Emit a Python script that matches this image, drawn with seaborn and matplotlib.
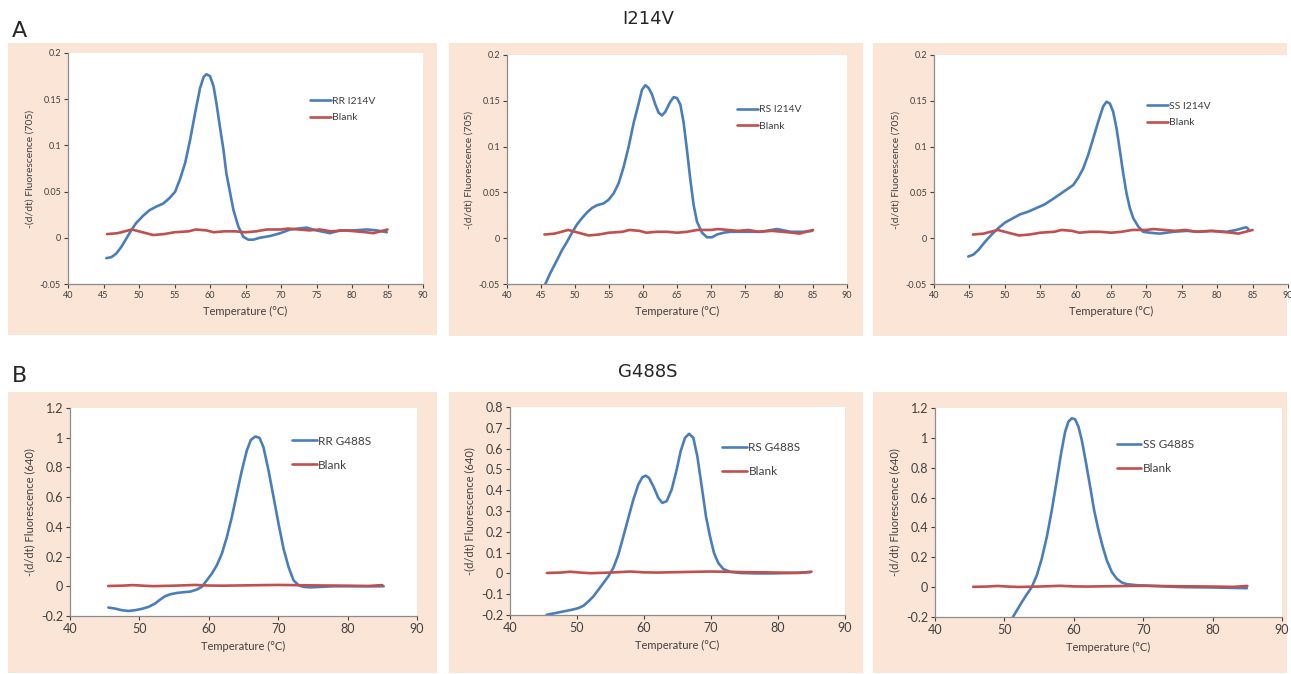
import numpy as np
import pandas as pd
import matplotlib.pyplot as plt
import seaborn as sns
from matplotlib.patches import Rectangle
from matplotlib.ticker import FuncFormatter

# --- data (temperature in degC, -(d/dt) fluorescence) ---
# I214V (705 channel)
rr_i214v_t = [45.4, 46.1, 46.8, 47.5, 48.2, 48.9, 49.6, 50.6, 51.5, 52.5, 53.4, 54.3, 55.1, 55.8, 56.5,
              57.2, 57.9, 58.6, 59.1, 59.5, 60.0, 60.5, 60.9, 61.4, 61.9, 62.3, 62.8, 63.3, 64.0, 64.7,
              65.4, 66.1, 67.0, 68.5, 69.9, 71.3, 73.6, 75.0, 76.9, 78.3, 80.2, 82.1, 83.5, 84.9]
rr_i214v_y = [-0.022, -0.021, -0.017, -0.010, -0.001, 0.008, 0.016, 0.024, 0.030, 0.034, 0.037, 0.043, 0.050, 0.064, 0.081,
              0.106, 0.135, 0.162, 0.174, 0.177, 0.175, 0.164, 0.146, 0.120, 0.095, 0.070, 0.050, 0.030, 0.012, 0.001,
              -0.002, -0.002, 0.000, 0.002, 0.005, 0.009, 0.011, 0.008, 0.005, 0.008, 0.008, 0.009, 0.008, 0.006]

rs_i214v_t = [45.4, 45.64, 46.37, 47.35, 48.09, 48.82, 49.56, 50.29, 51.03, 51.76, 52.5, 53.24, 54.22, 54.95, 55.69,
              56.42, 57.16, 57.89, 58.63, 59.36, 59.85, 60.34, 60.83, 61.32, 61.81, 62.3, 62.79, 63.28, 64.02, 64.51,
              65.0, 65.49, 65.98, 66.47, 66.96, 67.45, 67.94, 68.68, 69.41, 70.15, 70.88, 71.86, 72.8, 75.3, 77.3,
              79.7, 81.7, 83.6, 84.9]
rs_i214v_y = [-0.058, -0.050, -0.038, -0.024, -0.013, -0.004, 0.006, 0.015, 0.022, 0.028, 0.033, 0.036, 0.038, 0.042, 0.049,
              0.060, 0.078, 0.100, 0.126, 0.147, 0.162, 0.167, 0.164, 0.157, 0.146, 0.137, 0.134, 0.138, 0.149, 0.154,
              0.153, 0.146, 0.126, 0.096, 0.064, 0.036, 0.018, 0.006, 0.001, 0.001, 0.004, 0.006, 0.007, 0.007, 0.007,
              0.010, 0.007, 0.007, 0.008]

ss_i214v_t = [44.84, 45.55, 46.26, 47.2, 48.14, 49.08, 50.02, 50.96, 52.14, 53.31, 54.49, 55.66, 56.84, 57.78, 58.72,
              59.66, 60.37, 61.07, 61.78, 62.49, 63.19, 63.9, 64.37, 64.84, 65.31, 65.78, 66.25, 66.72, 67.19, 67.66,
              68.13, 68.83, 69.54, 70.48, 71.89, 73.8, 75.7, 77.5, 79.4, 81.3, 82.7, 84.1, 84.4]
ss_i214v_y = [-0.020, -0.018, -0.013, -0.004, 0.004, 0.011, 0.017, 0.021, 0.026, 0.029, 0.033, 0.037, 0.043, 0.048, 0.053,
              0.058, 0.066, 0.076, 0.091, 0.109, 0.127, 0.144, 0.149, 0.147, 0.138, 0.120, 0.096, 0.071, 0.049, 0.033,
              0.022, 0.013, 0.007, 0.006, 0.005, 0.007, 0.008, 0.007, 0.008, 0.007, 0.009, 0.012, 0.010]

blank_a_t = [45.5, 47.0, 49.0, 50.5, 52.0, 53.5, 55.0, 57.0, 58.0, 59.5, 60.5, 62.0, 63.5, 65.0, 66.5,
             68.0, 70.0, 71.0, 72.5, 74.0, 75.5, 77.0, 79.0, 80.5, 82.0, 83.0, 85.0]
blank_a_y = [0.004, 0.005, 0.009, 0.006, 0.003, 0.004, 0.006, 0.007, 0.009, 0.008, 0.006, 0.007, 0.007, 0.006, 0.007,
             0.009, 0.009, 0.010, 0.009, 0.008, 0.009, 0.007, 0.008, 0.007, 0.006, 0.005, 0.009]

# G488S (640 channel)
rr_g488s_t = [45.53, 46.49, 47.45, 48.41, 49.38, 50.34, 51.3, 52.26, 52.98, 53.7, 54.42, 55.38, 56.35, 57.31, 58.27,
              58.99, 59.71, 60.43, 61.15, 61.88, 62.6, 63.32, 64.04, 64.76, 65.48, 66.06, 66.69, 67.31, 67.88, 68.61,
              69.33, 70.05, 70.77, 71.49, 72.21, 72.93, 73.65, 74.62, 76.06, 77.98, 82.8, 85.2]
rr_g488s_y = [-0.143, -0.150, -0.161, -0.166, -0.161, -0.152, -0.139, -0.116, -0.090, -0.067, -0.054, -0.045, -0.040, -0.036, -0.022,
              -0.004, 0.040, 0.085, 0.141, 0.219, 0.331, 0.466, 0.623, 0.779, 0.914, 0.985, 1.008, 0.999, 0.936, 0.779,
              0.600, 0.421, 0.253, 0.130, 0.040, 0.007, -0.004, -0.007, -0.004, 0.000, 0.000, 0.000]

rs_g488s_t = [45.47, 46.72, 47.96, 49.2, 50.2, 50.95, 51.69, 52.44, 53.18, 53.93, 54.68, 55.42, 56.17, 56.92, 57.66,
              58.41, 59.15, 59.75, 60.25, 60.75, 61.39, 62.14, 62.74, 63.38, 64.13, 64.88, 65.47, 66.12, 66.72, 67.36,
              67.96, 68.61, 69.25, 69.85, 70.45, 71.09, 71.84, 72.84, 74.33, 76.8, 79.3, 81.8, 84.8]
rs_g488s_y = [-0.199, -0.191, -0.183, -0.175, -0.167, -0.156, -0.135, -0.111, -0.079, -0.047, -0.014, 0.026, 0.090, 0.178, 0.266,
              0.355, 0.427, 0.462, 0.470, 0.459, 0.419, 0.363, 0.339, 0.347, 0.403, 0.499, 0.587, 0.652, 0.671, 0.652,
              0.563, 0.419, 0.274, 0.178, 0.098, 0.050, 0.021, 0.008, 0.002, 0.000, 0.000, 0.002, 0.006]

ss_g488s_t = [50.4, 51.06, 51.78, 52.5, 53.22, 53.94, 54.66, 55.38, 56.11, 56.83, 57.55, 58.17, 58.75, 59.23, 59.71,
              60.19, 60.67, 61.15, 61.73, 62.36, 62.93, 63.56, 64.18, 64.76, 65.48, 66.2, 66.92, 67.64, 69.09, 71.01,
              73.41, 75.82, 79.66, 84.95]
ss_g488s_y = [-0.270, -0.213, -0.157, -0.101, -0.049, 0.000, 0.078, 0.190, 0.336, 0.515, 0.717, 0.896, 1.041, 1.109, 1.131,
              1.124, 1.075, 0.985, 0.840, 0.672, 0.515, 0.381, 0.269, 0.179, 0.101, 0.056, 0.031, 0.020, 0.013, 0.009,
              0.004, 0.000, -0.002, -0.007]

blank_b_t = [45.5, 47.5, 49.0, 50.5, 52.0, 55.0, 58.0, 60.0, 62.0, 65.0, 68.0, 70.0, 72.0, 75.0, 78.0, 80.0, 83.0, 85.0]
blank_b_y = [0.002, 0.004, 0.008, 0.004, 0.001, 0.004, 0.009, 0.005, 0.004, 0.006, 0.008, 0.009, 0.008, 0.006, 0.005, 0.004, 0.002, 0.008]

W, H = 1291, 674

sns.set_theme(style='white')
plt.rcParams['font.family'] = ['Lato', 'DejaVu Sans']
plt.rcParams['axes.unicode_minus'] = False

fig = plt.figure(figsize=(W / 100, H / 100), dpi=100)
fig.patch.set_facecolor('white')

# peach chart backgrounds (pixel boxes: left, top, right, bottom)
peach = '#fbe5d6'
for l, t, r, b in [(8, 43, 437, 335), (449, 43, 863, 336), (873, 43, 1287, 336),
                   (8, 392, 437, 673), (449, 392, 863, 673), (873, 392, 1287, 673)]:
    fig.patches.append(Rectangle((l / W, 1 - b / H), (r - l) / W, (b - t) / H,
                                 transform=fig.transFigure, facecolor=peach, edgecolor='none', zorder=0))

def add_axes(l, t, r, b):
    return fig.add_axes([l / W, 1 - b / H, (r - l) / W, (b - t) / H])

# axes box, series, label, blank series, row, legend anchor
panels = [
    (add_axes(68, 53, 423, 284), rr_i214v_t, rr_i214v_y, 'RR I214V', blank_a_t, blank_a_y, 'A', (0.67, 0.83)),
    (add_axes(507, 55, 847, 284), rs_i214v_t, rs_i214v_y, 'RS I214V', blank_a_t, blank_a_y, 'A', (0.665, 0.80)),
    (add_axes(934, 55, 1288, 284), ss_i214v_t, ss_i214v_y, 'SS I214V', blank_a_t, blank_a_y, 'A', (0.59, 0.815)),
    (add_axes(70, 408, 417, 616), rr_g488s_t, rr_g488s_y, 'RR G488S', blank_b_t, blank_b_y, 'B', (0.627, 0.89)),
    (add_axes(510, 407, 845, 615), rs_g488s_t, rs_g488s_y, 'RS G488S', blank_b_t, blank_b_y, 'B', (0.62, 0.855)),
    (add_axes(935, 408, 1282, 617), ss_g488s_t, ss_g488s_y, 'SS G488S', blank_b_t, blank_b_y, 'B', (0.51, 0.875)),
]

blue = '#4a7ebb'
red = '#c0504d'
grey_txt = '#404040'

for ax, st, sy, name, bt, by, row, leg_loc in panels:
    ax.set_zorder(2)
    ax.set_facecolor('white')
    sns.lineplot(x=st, y=sy, ax=ax, color=blue, lw=1.9, label=name, sort=False)
    sns.lineplot(x=bt, y=by, ax=ax, color=red, lw=1.9, label='Blank', sort=False)
    for ln in ax.lines:
        ln.set_solid_joinstyle('round')
    ax.set_xlim(40, 90)
    if row == 'A':
        ax.set_ylim(-0.05, 0.2)
        ax.set_yticks([-0.05, 0, 0.05, 0.1, 0.15, 0.2])
        ax.set_xticks(range(40, 91, 5))
        ax.set_ylabel('-(d/dt) Fluorescence (705)', fontsize=7.5, color=grey_txt)
        tick_fs = 6.5
        leg_fs, hl, sp = 7.5, 2.0, 0.7
    else:
        if name.startswith('RS'):
            ax.set_ylim(-0.2, 0.8)
            ax.set_yticks(np.arange(-0.2, 0.81, 0.1))
        else:
            ax.set_ylim(-0.2, 1.2)
            ax.set_yticks(np.arange(-0.2, 1.21, 0.2))
        ax.set_xticks(range(40, 91, 10))
        ax.set_ylabel('-(d/dt) Fluorescence (640)', fontsize=8, color=grey_txt)
        tick_fs = 9
        leg_fs, hl, sp = 8.5, 2.1, 1.1
    ax.yaxis.set_major_formatter(FuncFormatter(lambda v, p: f'{round(v, 2):g}'))
    ax.set_xlabel('Temperature (°C)', fontsize=8, color=grey_txt, labelpad=4)
    ax.tick_params(axis='both', labelsize=tick_fs, colors=grey_txt, length=3, width=0.8,
                   direction='out', bottom=True, left=True, pad=2)
    for s in ['top', 'right']:
        ax.spines[s].set_visible(False)
    for s in ['left', 'bottom']:
        ax.spines[s].set_color('#8c8c8c')
        ax.spines[s].set_linewidth(0.9)
    leg = ax.legend(loc='upper left', bbox_to_anchor=leg_loc, frameon=False, fontsize=leg_fs,
                    handlelength=hl, handletextpad=0.1, labelspacing=sp, borderaxespad=0)
    for txt in leg.get_texts():
        txt.set_color(grey_txt)

fig.text(12 / W, 1 - 31 / H, 'A', fontsize=16, family='DejaVu Sans', va='center', ha='left')
fig.text(12 / W, 1 - 376 / H, 'B', fontsize=16, family='DejaVu Sans', va='center', ha='left')
fig.text(648 / W, 1 - 19 / H, 'I214V', fontsize=13, family='DejaVu Sans', va='center', ha='center')
fig.text(648 / W, 1 - 372 / H, 'G488S', fontsize=13, family='DejaVu Sans', va='center', ha='center')

plt.savefig('out.png', dpi=100)
